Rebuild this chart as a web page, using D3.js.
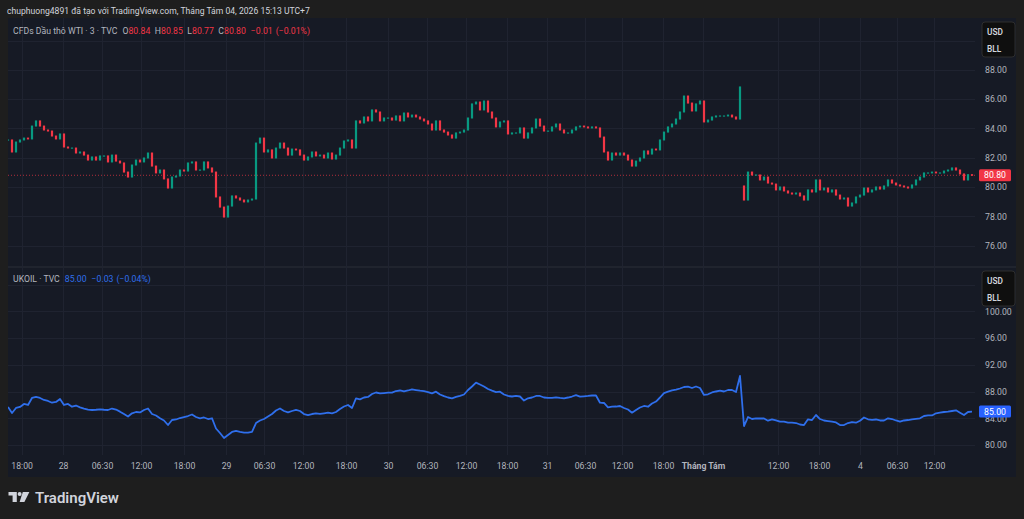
<!DOCTYPE html>
<html>
<head>
<meta charset="utf-8">
<script src="https://cdnjs.cloudflare.com/ajax/libs/d3/7.8.5/d3.min.js"></script>
<style>
    body { margin: 0; background: #1e1e1e; }
    svg { display: block; font-family: Roboto, "Noto Sans", sans-serif; }
</style>
</head>
<body>
<div id="chart"></div>
<script>
// WTI 3-min closes, one value per bar (old contract, then new contract after the roll)
const wtiClose = [
    83.21, 82.39, 83.07, 83.21, 83.34, 83.28, 84.16, 84.51, 84.16, 83.89,
    83.82, 83.48, 83.28, 83.62, 82.73, 82.66, 82.66, 82.32, 82.39, 82.18,
    81.84, 82.05, 81.84, 82.12, 82.12, 81.71, 82.18, 81.77, 81.64, 81.02,
    80.68, 81.50, 81.84, 81.71, 81.98, 82.32, 81.43, 80.96, 81.16, 80.55,
    79.93, 80.68, 80.75, 81.16, 81.09, 81.64, 81.71, 81.16, 81.16, 81.71,
    81.30, 81.02, 79.32, 78.63, 77.95, 78.70, 79.39, 79.25, 79.11, 78.98,
    79.11, 79.18, 83.00, 83.34, 82.39, 82.53, 81.98, 82.66, 83.00, 82.66,
    82.18, 82.59, 82.53, 82.18, 81.84, 82.05, 82.39, 82.12, 82.18, 81.98,
    82.32, 81.91, 82.18, 82.66, 83.14, 83.21, 82.66, 84.51, 84.37, 84.78,
    84.51, 85.26, 85.12, 84.51, 84.71, 84.71, 84.57, 84.85, 84.51, 85.05,
    84.78, 84.91, 84.78, 84.64, 84.51, 84.30, 83.89, 84.51, 83.89, 83.75,
    83.55, 83.34, 83.69, 83.75, 83.89, 84.71, 85.67, 85.80, 85.26, 85.87,
    85.12, 84.71, 84.10, 84.44, 84.51, 83.62, 83.69, 83.69, 84.03, 83.34,
    83.69, 84.03, 84.64, 84.16, 83.82, 83.82, 84.10, 84.30, 83.89, 83.69,
    83.69, 83.89, 84.10, 84.16, 84.10, 84.03, 84.10, 84.03, 83.41, 82.39,
    81.84, 82.32, 82.18, 82.32, 82.18, 81.84, 81.43, 81.77, 81.98, 82.46,
    82.25, 82.59, 82.53, 83.21, 83.75, 84.10, 84.30, 84.64, 85.12, 86.21,
    85.73, 85.19, 85.67, 85.87, 84.44, 84.57, 84.78, 84.85, 84.85, 84.85,
    84.91, 84.78, 84.64, 86.83,
    79.11, 81.02, 80.82, 80.82, 80.48, 80.68, 80.27, 80.20, 79.80, 80.00,
    79.73, 79.59, 79.52, 79.59, 79.39, 79.11, 79.80, 79.66, 80.48, 79.80,
    79.93, 79.66, 79.80, 79.45, 79.18, 79.25, 78.70, 78.91, 79.32, 79.45,
    79.93, 79.66, 79.80, 80.00, 79.86, 80.07, 80.48, 80.27, 80.14, 80.07,
    80.00, 79.93, 80.14, 80.48, 80.68, 80.96, 80.96, 81.02, 80.96, 80.96,
    81.09, 81.16, 81.30, 81.16, 80.89, 80.48, 80.84, 80.80
];
const wtiRollIndex = 184;
const wtiRollOpen = 80.07;

// UKOIL closes on the same bars
const ukoilClose = [
    85.69, 84.79, 85.54, 85.69, 86.14, 85.99, 87.04, 87.19, 87.04, 86.74,
    86.59, 86.33, 86.44, 86.89, 85.99, 86.14, 85.73, 85.91, 85.64, 85.46,
    85.31, 85.24, 85.28, 85.34, 85.28, 85.24, 85.46, 85.31, 84.99, 84.64,
    84.27, 84.75, 84.94, 84.87, 85.24, 85.46, 84.64, 84.42, 84.00, 83.67,
    82.99, 83.74, 83.82, 84.04, 84.19, 84.34, 84.57, 84.19, 84.00, 84.12,
    83.89, 84.00, 82.47, 81.80, 81.05, 81.50, 81.95, 82.10, 81.95, 81.84,
    81.84, 81.95, 83.29, 83.67, 83.89, 84.27, 84.64, 85.16, 85.46, 85.09,
    84.87, 85.09, 85.24, 85.09, 84.64, 84.49, 84.64, 84.75, 84.67, 84.75,
    84.84, 84.75, 84.94, 85.39, 85.76, 85.99, 85.54, 86.99, 86.84, 87.11,
    87.19, 87.63, 87.86, 87.74, 87.78, 87.83, 87.83, 88.08, 88.16, 88.01,
    88.16, 88.34, 88.23, 88.13, 88.05, 87.93, 87.74, 87.98, 87.56, 87.31,
    87.11, 86.99, 87.19, 87.34, 87.56, 88.23, 88.76, 89.33, 89.06, 88.76,
    88.38, 88.13, 87.93, 87.98, 87.56, 87.34, 87.26, 87.34, 87.26, 86.66,
    86.99, 87.11, 87.34, 87.34, 87.11, 87.04, 87.04, 87.14, 87.04, 86.99,
    87.11, 87.26, 87.46, 87.23, 87.29, 87.34, 87.41, 87.41, 86.33, 86.29,
    85.64, 85.73, 85.76, 85.84, 85.54, 85.31, 84.84, 85.24, 85.61, 85.84,
    85.73, 86.21, 86.51, 87.11, 87.78, 87.98, 88.19, 88.28, 88.46, 88.68,
    88.73, 88.53, 88.76, 88.53, 87.49, 87.59, 87.86, 88.01, 88.13, 88.01,
    88.23, 88.23, 87.93, 90.33, 82.84, 84.19, 83.89, 83.97, 84.00, 83.97,
    83.64, 83.82, 83.67, 83.49, 83.49, 83.34, 83.34, 83.29, 83.07, 82.99,
    83.85, 83.74, 84.49, 83.89, 83.67, 83.59, 83.49, 83.37, 82.99, 82.99,
    83.29, 83.44, 83.34, 83.64, 84.12, 83.85, 83.77, 83.82, 83.67, 83.67,
    84.00, 83.89, 83.67, 83.49, 83.67, 83.74, 83.85, 83.92, 84.00, 84.34,
    84.42, 84.42, 84.75, 84.84, 84.94, 84.99, 85.09, 85.19, 84.84, 84.49,
    84.94, 85.00
];

// time axis: bar position of each label
const timeTickPos = [3.4, 13.75, 23.5, 33.25, 44, 54.5, 64, 73.75, 84.5, 95, 104.75, 114.5,
    124.75, 134.75, 144.25, 153.5, 163.75, 173.75, 192.5, 202.75, 213, 222.25, 231.5];
const timeTickLabels = ['18:00', '28', '06:30', '12:00', '18:00', '29', '06:30', '12:00', '18:00', '30', '06:30', '12:00',
    '18:00', '31', '06:30', '12:00', '18:00', 'Tháng Tám', '12:00', '18:00', '4', '06:30', '12:00'];

const wtiGrid = [74, 76, 78, 80, 82, 84, 86, 88, 90];
const wtiLabels = [76, 78, 80, 82, 84, 86, 88];
const ukoilGrid = [80, 84, 88, 92, 96, 100, 104];
const ukoilLabels = [80, 84, 88, 92, 96, 100];

const wtiLegend = ['80.84', '80.85', '80.77', '80.80', '−0.01', '(−0.01%)'];
const ukoilLegend = ['85.00', '−0.03', '(−0.04%)'];

const colors = {
    outer: '#1e1e1e',
    pane: '#161a25',
    grid: '#1f2330',
    text: '#b2b5be',
    bright: '#d1d4dc',
    up: '#089981',
    down: '#f23645',
    line: '#2f6fec',
    lineLabel: '#2962ff'
};

let width = 1024, height = 519;
let left = 8, plotRight = 975, scaleRight = 1016;
let topPane = {top: 18, bottom: 266};
let bottomPane = {top: 268, bottom: 455};
let axisBottom = 477;
let fontSize = '8.7px';

let svg = d3.select('#chart').append('svg')
    .attr('width', width)
    .attr('height', height);

let x = d3.scaleLinear().domain([0, wtiClose.length - 1]).range([8, 972]);
let yTop = d3.scaleLinear().domain([80, 88]).range([187, 69.8]);
let yBottom = d3.scaleLinear().domain([80, 100]).range([445, 311.4]);

function chart() {
    chart.frame();
    chart.grid();
    chart.candles();
    chart.line();
    chart.priceScales();
    chart.timeAxis();
    chart.legends();
    chart.footer();
}

chart.frame = function () {
    svg.append('rect').attr('width', width).attr('height', height).attr('fill', colors.outer);
    svg.append('rect')
        .attr('x', left).attr('y', topPane.top)
        .attr('width', scaleRight - left).attr('height', axisBottom - topPane.top)
        .attr('fill', colors.pane);
    svg.append('line')
        .attr('x1', left).attr('x2', scaleRight)
        .attr('y1', 267).attr('y2', 267)
        .attr('stroke', '#2a2e39');

    let defs = svg.append('defs');
    [['clipTop', topPane], ['clipBottom', bottomPane]].forEach(function ([id, pane]) {
        defs.append('clipPath').attr('id', id)
            .append('rect')
            .attr('x', left).attr('y', pane.top)
            .attr('width', plotRight - left).attr('height', pane.bottom - pane.top);
    });

    svg.append('text')
        .attr('x', 7).attr('y', 14)
        .attr('fill', colors.bright)
        .style('font-size', '8.6px')
        .text('chuphuong4891 đã tạo với TradingView.com, Tháng Tám 04, 2026 15:13 UTC+7');
};

chart.grid = function () {
    let g = svg.append('g').attr('stroke', colors.grid).attr('stroke-width', 1);
    g.selectAll('.vgrid').data(timeTickPos).join('line')
        .attr('x1', d => Math.round(x(d)) + 0.5).attr('x2', d => Math.round(x(d)) + 0.5)
        .attr('y1', topPane.top).attr('y2', bottomPane.bottom);
    [[wtiGrid, yTop, 'clipTop'], [ukoilGrid, yBottom, 'clipBottom']].forEach(function ([ticks, y, clip]) {
        g.append('g').attr('clip-path', `url(#${clip})`)
            .selectAll('line').data(ticks).join('line')
            .attr('x1', left).attr('x2', plotRight)
            .attr('y1', d => Math.round(y(d)) + 0.5).attr('y2', d => Math.round(y(d)) + 0.5);
    });
};

chart.candles = function () {
    let bars = wtiClose.map(function (c, i) {
        let o = i === 0 ? c : (i === wtiRollIndex ? wtiRollOpen : wtiClose[i - 1]);
        return {i, o, c, h: Math.max(o, c), l: Math.min(o, c)};
    });
    let g = svg.append('g').attr('clip-path', 'url(#clipTop)');

    // last price line
    g.append('line')
        .attr('x1', left).attr('x2', plotRight)
        .attr('y1', yTop(wtiClose[wtiClose.length - 1])).attr('y2', yTop(wtiClose[wtiClose.length - 1]))
        .attr('stroke', colors.down).attr('stroke-opacity', 0.7)
        .attr('stroke-dasharray', '1,2');

    g.selectAll('.wick').data(bars).join('line')
        .attr('x1', d => x(d.i)).attr('x2', d => x(d.i))
        .attr('y1', d => yTop(d.h)).attr('y2', d => yTop(d.l))
        .attr('stroke', d => d.c >= d.o ? colors.up : colors.down);
    g.selectAll('.body').data(bars).join('rect')
        .attr('x', d => x(d.i) - 1.1)
        .attr('width', 2.2)
        .attr('y', d => yTop(d.h) - 0.5)
        .attr('height', d => Math.max(1.2, yTop(d.l) - yTop(d.h) + 1))
        .attr('fill', d => d.c >= d.o ? colors.up : colors.down);
};

chart.line = function () {
    let line = d3.line()
        .x((d, i) => x(i))
        .y(d => yBottom(d));
    svg.append('g').attr('clip-path', 'url(#clipBottom)')
        .append('path')
        .attr('d', line(ukoilClose))
        .attr('fill', 'none')
        .attr('stroke', colors.line)
        .attr('stroke-width', 1.8)
        .attr('stroke-linejoin', 'round');
};

chart.priceScales = function () {
    [[wtiLabels, yTop], [ukoilLabels, yBottom]].forEach(function ([ticks, y]) {
        let axis = d3.axisRight(y)
            .tickValues(ticks)
            .tickSize(0)
            .tickPadding(0)
            .tickFormat(d3.format('.2f'));
        let g = svg.append('g').attr('transform', `translate(985,0)`).call(axis);
        g.select('.domain').remove();
        g.selectAll('text')
            .attr('fill', colors.text)
            .style('font-size', fontSize)
            .style('font-family', 'Roboto, sans-serif');
    });

    chart.unitBox(22);
    chart.unitBox(271);

    chart.priceTag(yTop(wtiClose[wtiClose.length - 1]), wtiLegend[3], colors.down);
    chart.priceTag(yBottom(ukoilClose[ukoilClose.length - 1]), ukoilLegend[0], colors.lineLabel);
};

chart.unitBox = function (top) {
    let g = svg.append('g');
    g.append('rect')
        .attr('x', 982).attr('y', top)
        .attr('width', 33).attr('height', 35)
        .attr('rx', 3)
        .attr('fill', '#0f0f0f')
        .attr('stroke', '#2e2e2e');
    g.append('text').attr('x', 987).attr('y', top + 12.5).text('USD');
    g.append('text').attr('x', 987).attr('y', top + 30).text('BLL');
    g.selectAll('text')
        .attr('fill', colors.bright)
        .style('font-size', '8.3px')
        .style('font-weight', 600);
};

chart.priceTag = function (y, label, fill) {
    svg.append('rect')
        .attr('x', 979).attr('y', y - 6)
        .attr('width', 32).attr('height', 12)
        .attr('rx', 1.5)
        .attr('fill', fill);
    svg.append('text')
        .attr('x', 995).attr('y', y + 3.2)
        .attr('text-anchor', 'middle')
        .attr('fill', '#ffffff')
        .style('font-size', fontSize)
        .text(label);
};

chart.timeAxis = function () {
    let axis = d3.axisBottom(x)
        .tickValues(timeTickPos)
        .tickSize(0)
        .tickPadding(7.5)
        .tickFormat((d, k) => timeTickLabels[k]);
    let g = svg.append('g').attr('transform', `translate(0,${bottomPane.bottom})`).call(axis);
    g.select('.domain').remove();
    g.selectAll('text')
        .attr('fill', colors.text)
        .style('font-size', fontSize)
        .style('font-family', 'Roboto, sans-serif')
        .style('font-weight', (d, k) => timeTickLabels[k] === 'Tháng Tám' ? 700 : 400);
};

chart.legends = function () {
    let top = svg.append('text')
        .attr('x', 13).attr('y', 33.6)
        .style('font-size', fontSize)
        .attr('fill', colors.text);
    top.append('tspan').text('CFDs Dầu thô WTI · 3 · TVC');
    ['O', 'H', 'L', 'C'].forEach(function (key, k) {
        top.append('tspan').attr('dx', k === 0 ? 5 : 4.5).text(key);
        top.append('tspan').attr('fill', colors.down).text(wtiLegend[k]);
    });
    top.append('tspan').attr('dx', 5).attr('fill', colors.down).text(wtiLegend[4]);
    top.append('tspan').attr('dx', 3).attr('fill', colors.down).text(wtiLegend[5]);

    let bottom = svg.append('text')
        .attr('x', 13).attr('y', 281.8)
        .style('font-size', fontSize)
        .attr('fill', colors.text);
    bottom.append('tspan').text('UKOIL · TVC');
    bottom.append('tspan').attr('dx', 5).attr('fill', colors.line).text(ukoilLegend[0]);
    bottom.append('tspan').attr('dx', 5).attr('fill', colors.line).text(ukoilLegend[1]);
    bottom.append('tspan').attr('dx', 3).attr('fill', colors.line).text(ukoilLegend[2]);
};

chart.footer = function () {
    let g = svg.append('g').attr('fill', colors.bright);
    g.append('path').attr('d', 'M8.5,492 H16.8 V502 H12.6 V495.6 H8.5 Z');
    g.append('circle').attr('cx', 19.6).attr('cy', 494).attr('r', 2);
    g.append('path').attr('d', 'M22.8,492 H29.4 L24.4,502 H19.6 Z');
    g.append('text')
        .attr('x', 35).attr('y', 502.5)
        .style('font-size', '15px')
        .style('font-weight', 600)
        .text('TradingView');
};

chart();
</script>
</body>
</html>
